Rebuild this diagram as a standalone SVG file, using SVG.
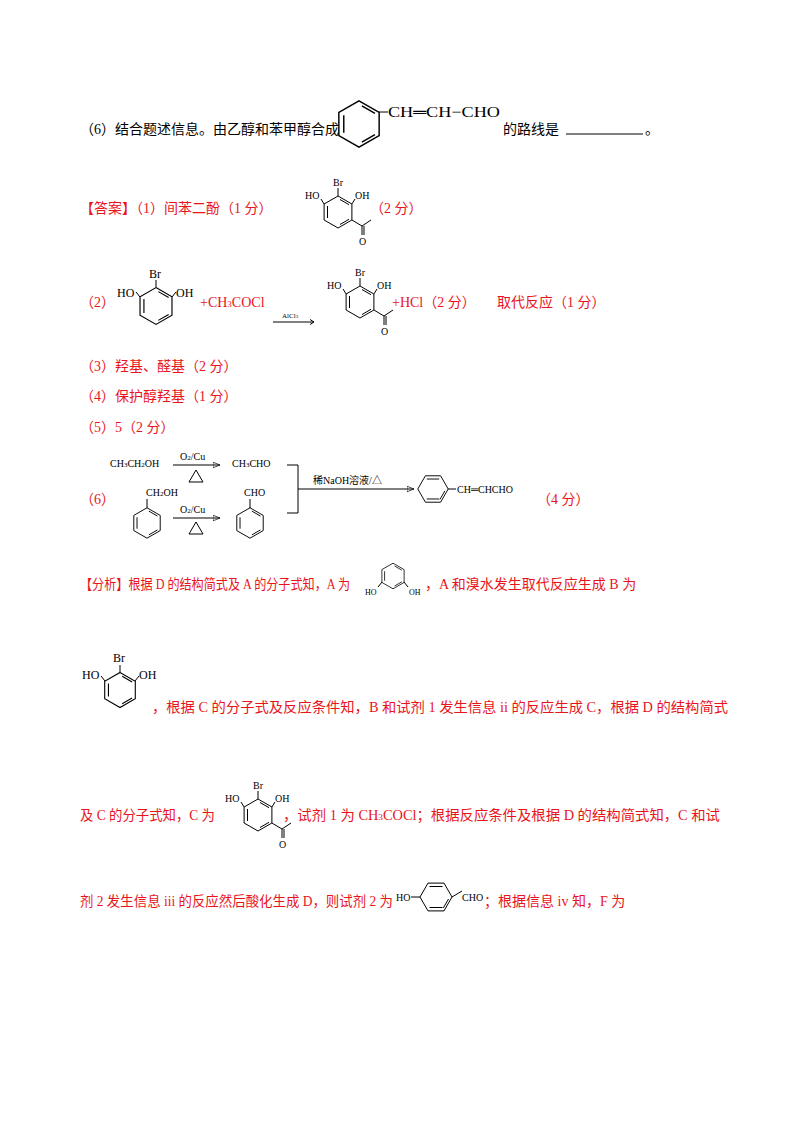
<svg xmlns="http://www.w3.org/2000/svg" xmlns:xlink="http://www.w3.org/1999/xlink" width="800" height="1132" viewBox="0 0 800 1132">
<style>
text{font-family:"Liberation Serif","Noto Sans CJK SC",serif;font-size:14px;fill:#000}
.r{fill:#e8141b}
.s{font-size:12px}
.xs{font-size:10px}
.t{font-size:7px}
.e{font-size:8px}
.big{font-size:15px}
line,path,polyline,polygon{stroke:#000;stroke-width:1;fill:none}
</style>
<defs>
<marker id="ah" viewBox="0 0 10 10" refX="10" refY="5" markerWidth="7" markerHeight="7" orient="auto"><path d="M0,1L10,5L0,9Z" fill="#000" stroke="none"/></marker>
<g id="bz">
<polygon points="0,-16 13.9,-8 13.9,8 0,16 -13.9,8 -13.9,-8"/>
<line x1="2" y1="-12.5" x2="11" y2="-7.3"/><line x1="11" y1="7.3" x2="2" y2="12.5"/><line x1="-10.5" y1="-6" x2="-10.5" y2="6"/>
</g>
<g id="bzf">
<polygon points="-16,0 -8,-13.9 8,-13.9 16,0 8,13.9 -8,13.9"/>
<line x1="-6.5" y1="-10.5" x2="6.5" y2="-10.5"/><line x1="6.5" y1="10.5" x2="-6.5" y2="10.5"/><line x1="12.5" y1="2" x2="7.3" y2="11"/>
</g>
<g id="cmpC">
<use xlink:href="#bz"/>
<line x1="0" y1="-16" x2="0" y2="-24"/>
<text x="-5" y="-26" class="xs">Br</text>
<line x1="-13.9" y1="-8" x2="-17" y2="-13"/>
<text x="-33" y="-13" class="xs">HO</text>
<line x1="13.9" y1="-8" x2="17" y2="-13"/>
<text x="17" y="-13" class="xs">OH</text>
<line x1="13.9" y1="8" x2="24" y2="14"/>
<line x1="24" y1="14" x2="33" y2="8"/>
<line x1="24" y1="14" x2="24" y2="23"/>
<line x1="26" y1="14" x2="26" y2="23"/>
<text x="21" y="33" class="xs">O</text>
</g>
</defs>

<g id="q6">
<text x="80" y="134">（6）结合题述信息。由乙醇和苯甲醇合成</text>
<g transform="translate(359,124) scale(1.45)"><use xlink:href="#bz"/></g>
<line x1="379" y1="112" x2="388" y2="112"/>
<text x="388" y="117" class="big" textLength="112" lengthAdjust="spacingAndGlyphs">CH═CH−CHO</text>
<text x="503" y="134">的路线是</text>
<line x1="566" y1="134" x2="643" y2="134" stroke-width="1.2"/>
<text x="645" y="134">。</text>
</g>

<g id="ans1">
<text x="80" y="213" class="r">【答案】（1）间苯二酚（1 分）</text>
<g transform="translate(338,212)"><use xlink:href="#cmpC"/></g>
<text x="370" y="213" class="r">（2 分）</text>
</g>

<g id="ans2">
<text x="80" y="307" class="r">（2）</text>
<g transform="translate(156,306) scale(1.15)"><use xlink:href="#bz"/></g>
<line x1="156" y1="287" x2="156" y2="280"/>
<text x="149" y="278" class="s">Br</text>
<line x1="140" y1="297" x2="136" y2="292"/>
<text x="117" y="297" class="s">HO</text>
<line x1="172" y1="297" x2="176" y2="292"/>
<text x="176" y="297" class="s">OH</text>
<text x="200" y="307" class="r">+CH<tspan font-size="9">3</tspan>COCl</text>
<text x="282" y="318" class="t">AlCl<tspan font-size="5">3</tspan></text>
<line x1="273" y1="322" x2="314" y2="322"/>
<polyline points="310,319.5 314,322 310,324.5"/>
<g transform="translate(360,302)"><use xlink:href="#cmpC"/></g>
<text x="392" y="307" class="r">+HCl（2 分）</text>
<text x="497" y="307" class="r">取代反应（1 分）</text>
</g>

<g id="ans35">
<text x="80" y="371" class="r">（3）羟基、醛基（2 分）</text>
<text x="80" y="401" class="r">（4）保护醇羟基（1 分）</text>
<text x="80" y="432" class="r">（5）5（2 分）</text>
</g>

<g id="ans6">
<text x="80" y="504" class="r">（6）</text>
<text x="110" y="467" class="xs">CH<tspan font-size="7">3</tspan>CH<tspan font-size="7">2</tspan>OH</text>
<text x="180" y="460" class="xs">O<tspan font-size="7">2</tspan>/Cu</text>
<line x1="173" y1="465" x2="220" y2="465" marker-end="url(#ah)"/>
<polygon points="196,470 189,482 203,482"/>
<text x="232" y="467" class="xs">CH<tspan font-size="7">3</tspan>CHO</text>
<text x="146" y="496" class="xs">CH<tspan font-size="7">2</tspan>OH</text>
<g transform="translate(147,523) scale(0.95)"><use xlink:href="#bz"/></g>
<line x1="147" y1="508" x2="147" y2="499"/>
<text x="180" y="513" class="xs">O<tspan font-size="7">2</tspan>/Cu</text>
<line x1="173" y1="518" x2="220" y2="518" marker-end="url(#ah)"/>
<polygon points="196,522 189,534 203,534"/>
<text x="244" y="496" class="xs">CHO</text>
<g transform="translate(250,523) scale(0.95)"><use xlink:href="#bz"/></g>
<line x1="250" y1="508" x2="250" y2="499"/>
<polyline points="287,465 298,465 298,513 287,513"/>
<line x1="298" y1="489" x2="414" y2="489" marker-end="url(#ah)"/>
<text x="313" y="484" class="xs">稀NaOH溶液/△</text>
<g transform="translate(433,489) scale(0.95)"><use xlink:href="#bzf"/></g>
<line x1="448" y1="489" x2="456" y2="489"/>
<text x="457" y="493" class="xs">CH═CHCHO</text>
<text x="537" y="504" class="r">（4 分）</text>
</g>

<g id="analysis">
<text x="80" y="589" class="r" textLength="270" lengthAdjust="spacingAndGlyphs">【分析】根据 D 的结构简式及 A 的分子式知，A 为</text>
<g transform="translate(393,576) scale(0.8)"><use xlink:href="#bz"/></g>
<line x1="382" y1="582" x2="378" y2="587"/>
<text x="365" y="595" class="e">HO</text>
<line x1="404" y1="582" x2="408" y2="587"/>
<text x="409" y="595" class="e">OH</text>
<text x="425" y="589" class="r">，A 和溴水发生取代反应生成 B 为</text>

<g transform="translate(120,690) scale(1.1)"><use xlink:href="#bz"/></g>
<line x1="120" y1="672" x2="120" y2="665"/>
<text x="113" y="662" class="s">Br</text>
<line x1="105" y1="681" x2="101" y2="676"/>
<text x="82" y="679" class="s">HO</text>
<line x1="135" y1="681" x2="139" y2="676"/>
<text x="139" y="679" class="s">OH</text>
<text x="152" y="712" class="r" textLength="576" lengthAdjust="spacingAndGlyphs">，根据 C 的分子式及反应条件知，B 和试剂 1 发生信息 ii 的反应生成 C，根据 D 的结构简式</text>

<text x="80" y="820" class="r" textLength="135" lengthAdjust="spacingAndGlyphs">及 C 的分子式知，C 为</text>
<g transform="translate(258,815)"><use xlink:href="#cmpC"/></g>
<text x="283" y="820" class="r" textLength="437" lengthAdjust="spacingAndGlyphs">，试剂 1 为 CH<tspan font-size="9">3</tspan>COCl；根据反应条件及根据 D 的结构简式知，C 和试</text>

<text x="80" y="906" class="r" textLength="313" lengthAdjust="spacingAndGlyphs">剂 2 发生信息 iii 的反应然后酸化生成 D，则试剂 2 为</text>
<text x="396" y="901" class="xs">HO</text>
<line x1="411" y1="897" x2="420" y2="897"/>
<g transform="translate(436,897)"><use xlink:href="#bzf"/></g>
<line x1="452" y1="897" x2="462" y2="891"/>
<text x="462" y="901" class="xs">CHO</text>
<text x="484" y="906" class="r">；根据信息 iv 知，F 为</text>
</g>
</svg>
